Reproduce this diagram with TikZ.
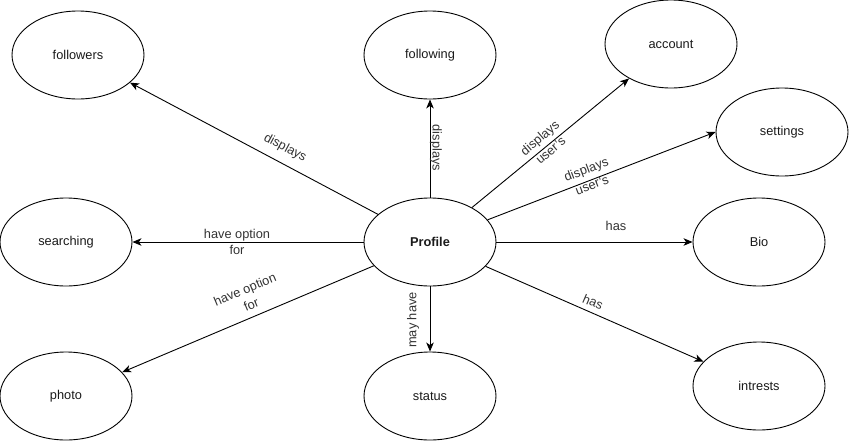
\documentclass[tikz,border=0pt]{standalone}
\usepackage{fontspec}
\setmainfont{Liberation Sans}
\usetikzlibrary{shapes.geometric,arrows.meta}
\definecolor{ink}{HTML}{1A1A1A}
\definecolor{lbl}{HTML}{333333}
\tikzset{
  entity/.style={ellipse, draw=black, line width=0.9pt, minimum width=132pt,
    minimum height=88pt, inner sep=0pt, text=ink,
    font=\fontsize{12.8}{15}\selectfont},
  rel/.style={draw=black, line width=0.9pt,
    -{Stealth[length=9pt,width=7.5pt,inset=2.5pt]}},
  tag/.style={text=lbl, inner sep=0pt, align=center,
    font=\fontsize{12.8}{16.5}\selectfont}
}
\begin{document}
\begin{tikzpicture}[x=1pt,y=-1pt]
  \useasboundingbox (0,0) rectangle (849,442);

  % entities
  \node[entity] (profile)   at (430,242) {\textbf{Profile}};
  \node[entity] (followers) at (78,55)   {followers};
  \node[entity] (following) at (430,55)  {following};
  \node[entity] (account)   at (671,44)  {account};
  \node[entity] (settings)  at (782,132) {settings};
  \node[entity] (searching) at (66,242)  {searching};
  \node[entity] (bio)       at (759,242) {Bio};
  \node[entity] (photo)     at (66,396)  {photo};
  \node[entity] (status)    at (430,396) {status};
  \node[entity] (intrests)  at (759,386) {intrests};

  % relations
  \draw[rel] (profile) -- (followers);
  \draw[rel] (profile) -- (following);
  \draw[rel] (profile) -- (account);
  \draw[rel] (profile) -- (settings.west);
  \draw[rel] (profile) -- (searching);
  \draw[rel] (profile) -- (bio);
  \draw[rel] (profile) -- (photo);
  \draw[rel] (profile) -- (status);
  \draw[rel] (profile) -- (intrests);

  % relation labels
  \node[tag, rotate=-28]  (lfollowers) at (285,148) {displays};
  \node[tag, rotate=-90]  (lfollowing) at (436,148) {displays};
  \node[tag, rotate=40.5] (laccount)   at (545,144) {displays\\user's};
  \node[tag, rotate=20.5] (lsettings)  at (589,177) {displays\\user's};
  \node[tag]              (lsearching) at (237,242) {have option\\for};
  \node[tag]              (lbio)       at (616,226) {has};
  \node[tag, rotate=22.8] (lphoto)     at (248,297) {have option\\for};
  \node[tag, rotate=90]   (lstatus)    at (413,320) {may have};
  \node[tag, rotate=-23.3](lintrests)  at (593,302) {has};
\end{tikzpicture}
\end{document}
